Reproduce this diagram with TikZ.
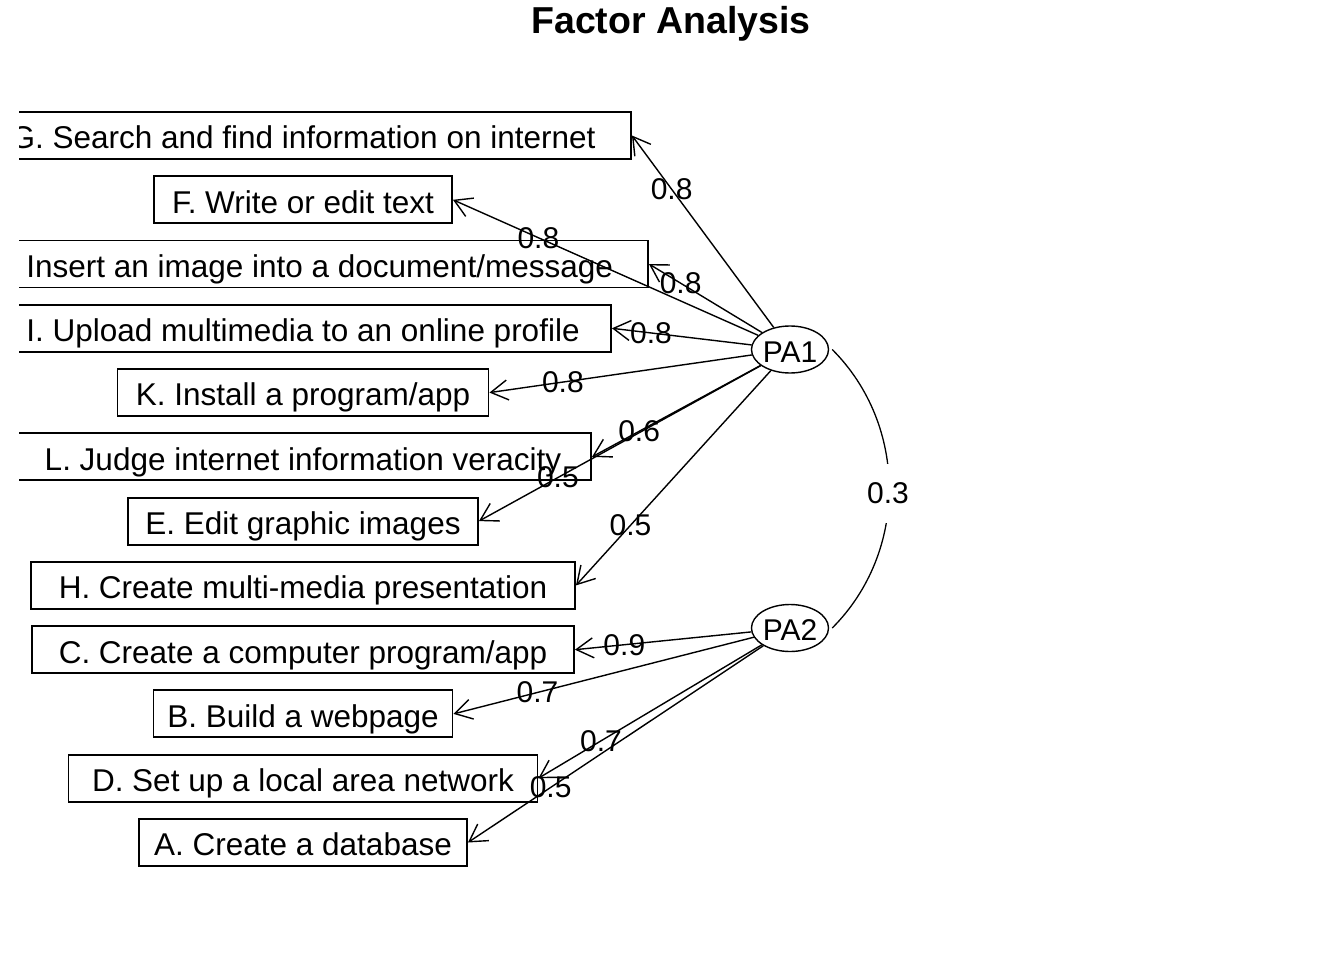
\documentclass[tikz,border=0pt]{standalone}
\usepackage{fontspec}
\setmainfont{Liberation Sans}
\usetikzlibrary{arrows.meta,shapes.geometric}
\begin{document}
\begin{tikzpicture}[x=1pt,y=-1pt,
  box/.style={draw, line width=1.9pt, rectangle, inner sep=0pt, minimum height=47pt, text height=26.6pt, text depth=0pt, font=\fontsize{31.5}{36}\selectfont},
  fac/.style={draw, ellipse, line width=1.4pt, inner sep=0pt, minimum width=74pt, minimum height=47pt, text height=25.6pt, text depth=0pt, font=\fontsize{30}{36}\selectfont},
  load/.style={line width=1.4pt, -{Straight Barb[length=17pt,width=20pt,line width=1.4pt]}},
  lab/.style={font=\fontsize{30}{36}\selectfont, inner sep=0pt, pos=0.72},
  cor/.style={line width=1.3pt},
  corlab/.style={fill=white, font=\fontsize{30}{36}\selectfont, inner xsep=2pt, inner ysep=0pt, minimum height=59pt},
  ttl/.style={font=\bfseries\fontsize{37.5}{45}\selectfont, anchor=base, inner sep=0pt}]
\useasboundingbox (0,0) rectangle (1344,960);
\node[ttl] (title) at (671,33.3) {Factor Analysis};
\begin{scope}
\clip (19,0) rectangle (1344,960);
\node[box, minimum width=656] (G) at (303,135.5) {G. Search and find information on internet};
\node[box, minimum width=298] (F) at (303,199.8) {F. Write or edit text};
\node[box, minimum width=690] (J) at (303,264.0) {J. Insert an image into a document/message};
\node[box, minimum width=616] (I) at (303,328.3) {I. Upload multimedia to an online profile};
\node[box, minimum width=371] (K) at (303,392.6) {K. Install a program/app};
\node[box, minimum width=576] (L) at (303,456.9) {L. Judge internet information veracity};
\node[box, minimum width=350] (E) at (303,521.1) {E. Edit graphic images};
\node[box, minimum width=544] (H) at (303,585.4) {H. Create multi-media presentation};
\node[box, minimum width=542] (C) at (303,649.7) {C. Create a computer program/app};
\node[box, minimum width=299] (B) at (303,713.9) {B. Build a webpage};
\node[box, minimum width=469] (D) at (303,778.2) {D. Set up a local area network};
\node[box, minimum width=328] (A) at (303,842.5) {A. Create a database};
\end{scope}
\node[fac] (PA1) at (790,349.5) {PA1};
\node[fac] (PA2) at (790,628) {PA2};
\draw[load] (PA1) -- node[lab]{0.8} (G.east);
\draw[load] (PA1) -- node[lab]{0.8} (F.east);
\draw[load] (PA1) -- node[lab]{0.8} (J.east);
\draw[load] (PA1) -- node[lab]{0.8} (I.east);
\draw[load] (PA1) -- node[lab]{0.8} (K.east);
\draw[load] (PA1) -- node[lab]{0.6} (L.east);
\draw[load] (PA1) -- node[lab]{0.5} (E.east);
\draw[load] (PA1) -- node[lab]{0.5} (H.east);
\draw[load] (PA2) -- node[lab]{0.9} (C.east);
\draw[load] (PA2) -- node[lab]{0.7} (B.east);
\draw[load] (PA2) -- node[lab]{0.7} (D.east);
\draw[load] (PA2) -- node[lab]{0.5} (A.east);
\draw[cor] ([xshift=3pt]PA1.east) .. controls +(76,76) and +(76,-76) .. ([xshift=3pt]PA2.east);
\node[corlab] (r) at (888,493) {0.3};
\end{tikzpicture}
\end{document}
